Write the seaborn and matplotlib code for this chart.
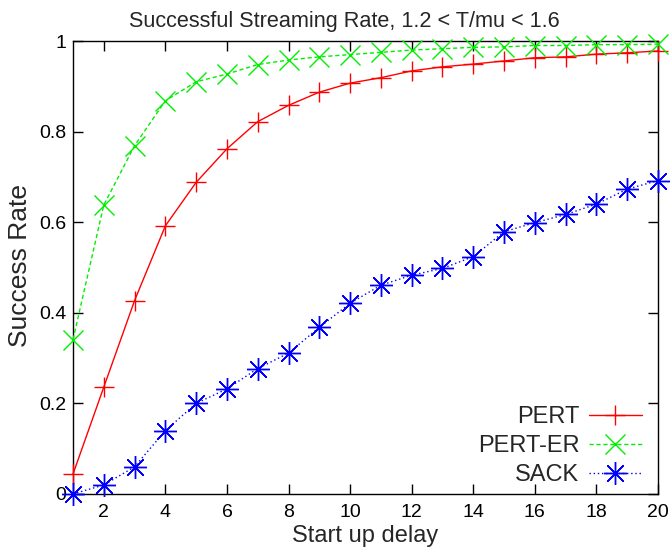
import matplotlib
matplotlib.use("Agg")
import matplotlib.pyplot as plt
import seaborn as sns
import pandas as pd

delay = list(range(1, 21))
pert = [0.044, 0.236, 0.427, 0.592, 0.688, 0.762, 0.822, 0.858, 0.887, 0.907,
        0.919, 0.934, 0.943, 0.949, 0.956, 0.963, 0.965, 0.971, 0.974, 0.978]
pert_er = [0.341, 0.638, 0.769, 0.868, 0.910, 0.927, 0.948, 0.958, 0.965, 0.970,
           0.975, 0.980, 0.983, 0.986, 0.987, 0.990, 0.990, 0.992, 0.992, 0.993]
sack = [0.0, 0.020, 0.060, 0.140, 0.200, 0.232, 0.277, 0.311, 0.368, 0.421,
        0.461, 0.483, 0.498, 0.524, 0.579, 0.599, 0.617, 0.640, 0.673, 0.692]
series_names = ["PERT", "PERT-ER", "SACK"]
xticks = list(range(2, 21, 2))
yticks = [0, 0.2, 0.4, 0.6, 0.8, 1.0]
ytick_labels = ["0", "0.2", "0.4", "0.6", "0.8", "1"]

sns.set_theme(style="ticks")
plt.rcParams['font.family'] = ['Liberation Sans', 'DejaVu Sans']

df = pd.DataFrame({
    "delay": delay * 3,
    "rate": pert + pert_er + sack,
    "series": sum([[n] * len(delay) for n in series_names], []),
})

fig = plt.figure(figsize=(6.71, 5.52), dpi=100)
ax = fig.add_axes([73 / 671, 58 / 552, 585 / 671, 453 / 552])

palette = {"PERT": "#ff0000", "PERT-ER": "#00ee00", "SACK": "#0000ff"}
dashes = {"PERT": "", "PERT-ER": (3, 2), "SACK": (1, 2)}
markers = {"PERT": "+", "PERT-ER": "x", "SACK": (8, 2, 0)}

sns.lineplot(data=df, x="delay", y="rate", hue="series", style="series",
             palette=palette, dashes=dashes, markers=markers, ax=ax,
             markersize=15, markeredgewidth=1.0, linewidth=1.0, legend=True)

for ln in ax.lines:
    ln.set_markeredgecolor(ln.get_color())
    ln.set_clip_on(False)
    if isinstance(ln.get_marker(), tuple):
        ln.set_markersize(16.5)

ax.set_xlim(1, 20)
ax.set_ylim(0, 1)
ax.set_xticks(xticks)
ax.set_yticks(yticks)
ax.set_yticklabels(ytick_labels)
ax.tick_params(direction="in", length=7, width=1, top=True, right=True,
               labelsize=14, colors="black")
ax.tick_params(axis="x", pad=7)
ax.tick_params(axis="y", pad=5)
for s in ax.spines.values():
    s.set_linewidth(1.0)
    s.set_color("black")
    s.set_zorder(0.5)
ax.set_xlabel("Start up delay", fontsize=17, labelpad=3)
ax.set_ylabel("Success Rate", fontsize=19)
ax.yaxis.label.set_va("center")
ax.yaxis.set_label_coords((20 - 73) / 585, (494 - 265.5) / 453)
fig.text(344 / 671, 1 - 27 / 552, "Successful Streaming Rate, 1.2 < T/mu < 1.6",
         ha="center", va="baseline", fontsize=15.6)

handles, labels = ax.get_legend_handles_labels()
for h in handles:
    h.set_markeredgecolor(h.get_color())
    if isinstance(h.get_marker(), tuple):
        h.set_markersize(16.5)
leg = ax.legend(handles, labels, loc="lower right", frameon=False,
                bbox_to_anchor=((642 - 73) / 585, (494 - 486) / 453),
                markerfirst=False, fontsize=17, handlelength=2.25,
                borderpad=0.0, borderaxespad=0.0, labelspacing=0.3,
                handletextpad=0.4)

fig.savefig("out.png", dpi=100)
